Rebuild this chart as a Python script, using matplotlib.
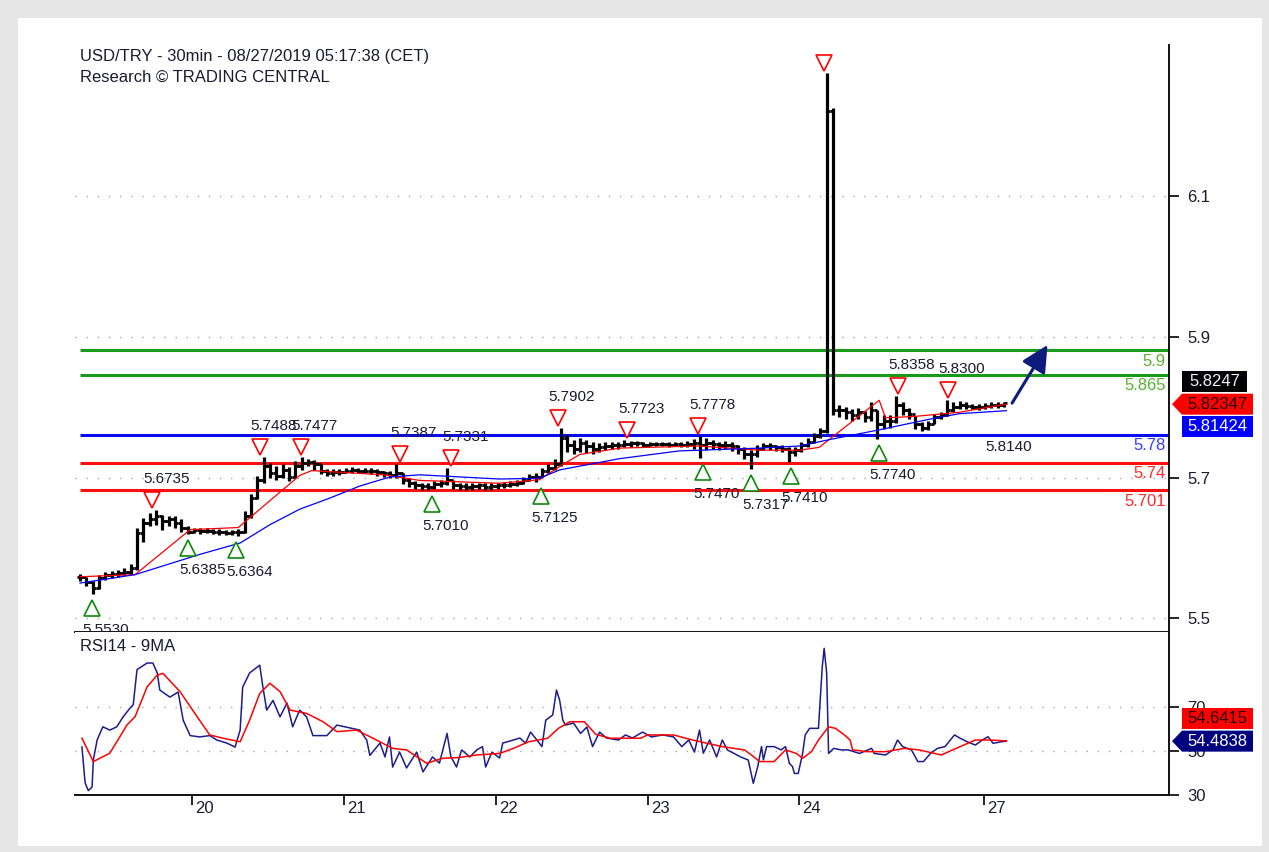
import numpy as np
import matplotlib
matplotlib.use("Agg")
import matplotlib.pyplot as plt
from matplotlib.patches import Polygon, Rectangle
from matplotlib.transforms import ScaledTranslation, IdentityTransform

plt.rcParams["font.family"] = ["Liberation Sans", "DejaVu Sans"]

# x axis is in hours since the first bar (one bar per hour here)
day_ticks = [17.7, 41.7, 65.7, 89.7, 113.7, 142.9]
day_labels = ["20", "21", "22", "23", "24", "27"]

closes = [
    5.578, 5.570, 5.562, 5.576, 5.580, 5.582, 5.584, 5.585, 5.590, 5.640,
    5.655, 5.660, 5.664, 5.658, 5.660, 5.655, 5.648, 5.642, 5.644, 5.643,
    5.643, 5.642, 5.642, 5.640, 5.641, 5.642, 5.665, 5.690, 5.715, 5.735,
    5.725, 5.722, 5.730, 5.720, 5.735, 5.740, 5.741, 5.738, 5.728, 5.725,
    5.727, 5.727, 5.729, 5.730, 5.729, 5.729, 5.728, 5.727, 5.725, 5.723,
    5.725, 5.715, 5.712, 5.708, 5.707, 5.706, 5.710, 5.712, 5.716, 5.708,
    5.707, 5.706, 5.707, 5.708, 5.706, 5.707, 5.708, 5.708, 5.710, 5.712,
    5.716, 5.720, 5.720, 5.728, 5.732, 5.738, 5.775, 5.765, 5.760, 5.768,
    5.764, 5.760, 5.762, 5.764, 5.766, 5.765, 5.767, 5.768, 5.768, 5.766,
    5.767, 5.767, 5.767, 5.766, 5.767, 5.766, 5.767, 5.768, 5.766, 5.768,
    5.767, 5.765, 5.766, 5.764, 5.760, 5.752, 5.752, 5.760, 5.764, 5.764,
    5.762, 5.760, 5.756, 5.758, 5.765, 5.770, 5.778, 5.785, 6.240, 5.815,
    5.815, 5.812, 5.808, 5.812, 5.805, 5.815, 5.795, 5.800, 5.800, 5.822,
    5.815, 5.810, 5.795, 5.790, 5.795, 5.805, 5.808, 5.815, 5.820, 5.822,
    5.821, 5.820, 5.819, 5.821, 5.822, 5.822, 5.8247,
]
highs = [
    5.582, 5.578, 5.572, 5.580, 5.585, 5.586, 5.588, 5.590, 5.596, 5.648,
    5.662, 5.668, 5.6735, 5.666, 5.665, 5.664, 5.660, 5.650, 5.648, 5.647,
    5.647, 5.646, 5.646, 5.645, 5.645, 5.646, 5.672, 5.696, 5.722, 5.7488,
    5.740, 5.735, 5.738, 5.734, 5.742, 5.7477, 5.746, 5.744, 5.738, 5.731,
    5.731, 5.731, 5.733, 5.734, 5.733, 5.732, 5.732, 5.731, 5.729, 5.728,
    5.7387, 5.726, 5.718, 5.714, 5.712, 5.712, 5.714, 5.716, 5.7331, 5.716,
    5.712, 5.711, 5.712, 5.712, 5.711, 5.712, 5.712, 5.713, 5.714, 5.716,
    5.720, 5.724, 5.725, 5.733, 5.738, 5.745, 5.7902, 5.780, 5.772, 5.775,
    5.772, 5.770, 5.768, 5.769, 5.770, 5.770, 5.7723, 5.771, 5.771, 5.770,
    5.770, 5.770, 5.770, 5.769, 5.770, 5.769, 5.771, 5.774, 5.7778, 5.775,
    5.773, 5.770, 5.771, 5.769, 5.766, 5.762, 5.758, 5.765, 5.768, 5.768,
    5.766, 5.765, 5.762, 5.763, 5.770, 5.775, 5.782, 5.790, 6.294, 6.245,
    5.822, 5.820, 5.816, 5.818, 5.814, 5.827, 5.815, 5.808, 5.808, 5.8358,
    5.826, 5.818, 5.806, 5.798, 5.800, 5.810, 5.813, 5.8300, 5.826, 5.828,
    5.826, 5.824, 5.824, 5.825, 5.826, 5.826, 5.827,
]
lows = [
    5.572, 5.565, 5.553, 5.560, 5.574, 5.576, 5.578, 5.580, 5.582, 5.588,
    5.628, 5.650, 5.652, 5.645, 5.650, 5.648, 5.642, 5.6385, 5.640, 5.639,
    5.640, 5.639, 5.638, 5.637, 5.637, 5.6364, 5.640, 5.662, 5.688, 5.712,
    5.718, 5.715, 5.718, 5.714, 5.718, 5.730, 5.735, 5.730, 5.724, 5.721,
    5.722, 5.723, 5.725, 5.726, 5.725, 5.725, 5.724, 5.722, 5.720, 5.718,
    5.718, 5.710, 5.706, 5.703, 5.702, 5.7010, 5.703, 5.706, 5.708, 5.703,
    5.702, 5.701, 5.702, 5.703, 5.701, 5.702, 5.703, 5.704, 5.705, 5.707,
    5.710, 5.714, 5.7125, 5.720, 5.726, 5.730, 5.736, 5.755, 5.752, 5.755,
    5.754, 5.752, 5.755, 5.758, 5.760, 5.760, 5.762, 5.763, 5.764, 5.763,
    5.764, 5.764, 5.764, 5.763, 5.764, 5.763, 5.762, 5.760, 5.747, 5.758,
    5.760, 5.759, 5.760, 5.757, 5.752, 5.745, 5.7317, 5.748, 5.758, 5.759,
    5.757, 5.755, 5.7410, 5.750, 5.756, 5.762, 5.768, 5.776, 5.782, 5.808,
    5.805, 5.803, 5.800, 5.802, 5.798, 5.800, 5.774, 5.788, 5.790, 5.796,
    5.808, 5.802, 5.788, 5.786, 5.787, 5.795, 5.802, 5.806, 5.812, 5.816,
    5.817, 5.816, 5.815, 5.817, 5.818, 5.818, 5.820,
]

red_ma_hours = [0, 8.7, 17.4, 25.0, 34.7, 36.6, 48.0, 53.7, 66.3, 72.6, 75.8,
                79.0, 85.3, 97.9, 107.4, 113.7, 116.8, 126.3, 127.3, 131.8, 139.0, 146.4]
red_ma_values = [5.578, 5.581, 5.645, 5.648, 5.722, 5.729, 5.723, 5.715, 5.711, 5.716, 5.735,
                 5.752, 5.761, 5.764, 5.758, 5.758, 5.762, 5.829, 5.804, 5.806, 5.812, 5.8235]
blue_ma_hours = [0, 8.7, 19.0, 25.3, 30.0, 34.7, 39.5, 44.2, 49.0, 53.7, 66.3,
                 72.6, 75.8, 85.3, 94.7, 107.4, 113.7, 118.4, 126.3, 134.2, 139.0, 146.4]
blue_ma_values = [5.569, 5.581, 5.610, 5.626, 5.652, 5.674, 5.690, 5.707, 5.720, 5.723, 5.717,
                  5.718, 5.730, 5.746, 5.757, 5.761, 5.764, 5.773, 5.787, 5.802, 5.810, 5.8142]

green_levels = [5.9, 5.865]
blue_levels = [5.78]
red_levels = [5.74, 5.701]

high_hours = [11.4, 28.4, 34.9, 50.5, 58.7, 75.5, 86.5, 97.7, 117.5, 129.2, 137.1]
high_values = [5.6735, 5.7488, 5.7477, 5.7387, 5.7331, 5.7902, 5.7723, 5.7778, 6.294, 5.8358, 5.8300]
high_labels = ["5.6735", "5.7488", "5.7477", "5.7387", "5.7331", "5.7902", "5.7723",
               "5.7778", "", "5.8358", "5.8300"]
low_hours = [1.9, 17.1, 24.6, 55.6, 72.8, 98.4, 106.1, 112.3, 126.2]
low_values = [5.5530, 5.6385, 5.6364, 5.7010, 5.7125, 5.7470, 5.7317, 5.7410, 5.7740]
low_labels = ["5.5530", "5.6385", "5.6364", "5.7010", "5.7125", "5.7470", "5.7317",
              "5.7410", "5.7740"]

forecast_hours = [147.3, 152.9]
forecast_values = [5.825, 5.9077]

price_ticks = [5.5, 5.7, 5.9, 6.1]
# the source grid sits a little above the round values
grid_shift = 0.019

rsi_hours = [
    0.3, 0.8, 1.3, 1.9, 2.1, 2.7, 3.6, 4.7, 5.8, 6.8,
    7.9, 8.4, 9.0, 10.6, 11.5, 12.2, 12.6, 14.2, 15.5, 16.3,
    17.4, 18.9, 20.5, 21.6, 23.2, 24.5, 25.3, 25.7, 26.8, 28.4,
    28.9, 29.5, 30.5, 31.6, 32.7, 33.6, 34.7, 35.8, 36.8, 39.0,
    40.6, 42.6, 44.2, 45.3, 45.8, 47.4, 48.2, 48.9, 49.4, 50.5,
    51.6, 53.2, 54.2, 55.7, 56.8, 58.0, 58.6, 59.5, 60.3, 61.6,
    62.7, 63.6, 64.1, 65.1, 66.3, 66.8, 68.5, 69.5, 70.4, 71.2,
    72.2, 73.0, 73.6, 74.7, 75.3, 75.8, 76.3, 76.7, 78.0, 79.1,
    80.1, 81.0, 82.1, 83.2, 85.1, 86.2, 87.3, 88.9, 90.3, 92.1,
    93.8, 95.1, 96.2, 97.1, 97.9, 98.5, 99.5, 100.6, 101.5, 102.3,
    103.3, 104.4, 105.6, 106.4, 107.1, 107.7, 108.0, 108.5, 109.7, 110.8,
    111.5, 112.1, 112.6, 112.9, 113.5, 114.2, 114.6, 115.3, 116.7, 117.3,
    117.6, 118.0, 118.3, 119.1, 120.3, 121.4, 123.2, 125.1, 125.5, 127.3,
    128.5, 129.2, 130.0, 131.4, 132.4, 133.3, 134.4, 135.5, 136.7, 138.2,
    139.1, 140.2, 141.5, 142.6, 143.5, 144.3, 145.6, 146.4,
]
rsi_values = [
    51.8, 35.5, 32.0, 33.6, 46.0, 55.0, 61.0, 59.5, 61.0, 65.5,
    69.5, 71.0, 87.0, 90.0, 90.0, 85.5, 77.7, 74.5, 76.8, 64.0,
    57.0, 56.4, 57.0, 55.0, 53.6, 51.8, 59.5, 79.0, 85.5, 89.0,
    79.0, 68.6, 73.0, 65.5, 71.8, 61.0, 68.6, 65.5, 57.0, 57.0,
    61.8, 60.5, 59.5, 55.0, 48.0, 53.6, 47.3, 56.4, 42.7, 49.5,
    42.3, 49.5, 40.5, 47.3, 44.5, 58.0, 47.5, 42.7, 50.5, 47.3,
    50.5, 52.0, 42.7, 49.5, 46.8, 53.6, 55.0, 55.9, 53.6, 58.6,
    55.0, 52.0, 64.0, 66.4, 77.7, 73.0, 64.0, 61.8, 62.7, 58.0,
    60.9, 52.0, 58.6, 55.9, 55.0, 57.3, 55.9, 58.6, 56.4, 57.3,
    56.4, 52.0, 55.0, 49.5, 59.5, 49.0, 55.0, 47.3, 55.0, 50.5,
    49.0, 47.3, 45.9, 35.3, 42.9, 52.0, 45.9, 52.0, 52.0, 50.5,
    52.0, 44.4, 42.9, 39.8, 39.8, 48.9, 57.3, 60.3, 60.3, 88.3,
    96.7, 85.3, 48.9, 51.2, 50.5, 50.5, 48.9, 51.2, 48.9, 48.2,
    50.5, 55.0, 52.0, 50.5, 45.2, 45.2, 48.9, 51.2, 52.0, 57.3,
    55.8, 54.2, 52.7, 55.0, 56.5, 53.5, 54.2, 54.5,
]
rsi_ma_hours = [
    0.3, 2.1, 4.7, 6.3, 7.4, 8.7, 10.6, 12.2, 13.1, 15.8,
    18.5, 20.5, 22.6, 25.3, 26.8, 28.4, 30.0, 31.6, 33.2, 35.8,
    38.4, 40.6, 43.7, 46.3, 49.4, 51.6, 54.8, 57.3, 59.8, 62.7,
    66.3, 68.5, 70.9, 73.9, 75.6, 77.4, 79.7, 81.5, 83.8, 88.6,
    89.7, 93.8, 96.8, 101.5, 105.0, 106.1, 107.4, 109.7, 111.5, 113.2,
    114.2, 115.6, 116.7, 118.3, 119.4, 120.8, 121.7, 122.1, 124.4, 127.3,
    130.3, 132.6, 136.1, 139.1, 141.5, 143.8, 146.4,
]
rsi_ma_values = [
    55.8, 45.2, 49.0, 56.5, 61.8, 65.6, 79.2, 84.5, 85.3, 77.0,
    65.6, 57.3, 55.8, 54.2, 64.0, 76.2, 80.8, 77.0, 68.6, 67.1,
    63.3, 58.8, 59.5, 55.8, 51.2, 50.5, 44.4, 46.7, 47.0, 48.2,
    48.9, 51.2, 54.2, 55.8, 60.3, 63.3, 63.3, 57.6, 55.8, 55.8,
    57.3, 57.3, 55.0, 52.0, 50.5, 48.2, 45.2, 45.2, 50.5, 48.9,
    46.7, 49.7, 55.0, 61.0, 60.3, 57.3, 55.0, 50.5, 49.7, 49.7,
    51.2, 50.5, 48.2, 52.0, 55.0, 55.0, 54.6,
]
rsi_ticks = [30, 50, 70]

last_price = 5.8247
last_red_ma = 5.82347
last_blue_ma = 5.81424
last_rsi_ma = 54.6415
last_rsi = 54.4838

W, H, DPI = 1269, 852, 100
fig = plt.figure(figsize=(W / DPI, H / DPI), dpi=DPI, facecolor="#e6e6e6")
fig.add_artist(Rectangle((18 / W, 6 / H), (1262 - 18) / W, (834 - 6) / H,
                         transform=fig.transFigure, facecolor="white",
                         edgecolor="none", zorder=-10))

ax_p = fig.add_axes([75 / W, (H - 632) / H, (1169 - 75) / W, (632 - 45) / H])
ax_r = fig.add_axes([75 / W, (H - 795) / H, (1169 - 75) / W, (795 - 632) / H])

x_left, x_right = -0.8, 172.1
text_col = "#1a1a33"


def shifted(ax, dx, dy):
    return ax.transData + ScaledTranslation(dx / DPI, dy / DPI, fig.dpi_scale_trans)


for ax in (ax_p, ax_r):
    ax.set_xlim(x_left, x_right)
    ax.set_facecolor("white")
    for side in ("top", "left"):
        ax.spines[side].set_visible(False)
    for side in ("right", "bottom"):
        ax.spines[side].set_linewidth(1.4)
        ax.spines[side].set_color("#111111")
    ax.yaxis.tick_right()
    ax.tick_params(axis="y", direction="out", length=7, width=1.2, pad=6,
                   labelsize=12, labelcolor=text_col)

# ---- price panel ----
ax_p.set_ylim(5.4994, 6.3344)
ax_p.set_yticks([v + grid_shift for v in price_ticks], [str(v) for v in price_ticks])
ax_p.set_xticks([])
ax_p.grid(axis="y", linestyle=(0, (1, 7)), color="#a8a8a8", linewidth=1)

for lvl in green_levels:
    ax_p.hlines(lvl, 0, x_right, color="#1a9a1a", lw=2.2, zorder=2)
for lvl in blue_levels:
    ax_p.hlines(lvl, 0, x_right, color="#0a0af0", lw=2.2, zorder=2)
for lvl in red_levels:
    ax_p.hlines(lvl, 0, x_right, color="#ff1010", lw=2.2, zorder=2)

level_text = [(green_levels, "#58b030"), (blue_levels, "#3b3bff"), (red_levels, "#ff2a2a")]
for levels, col in level_text:
    for lvl in levels:
        ax_p.text(x_right, lvl, f"{lvl:g}", transform=shifted(ax_p, -3, -11),
                  ha="right", va="center", fontsize=12, color=col)

# OHLC-style bars, drawn heavy so they pack together like the source
hours = np.arange(len(closes))
opens = [closes[0]] + closes[:-1]
ax_p.vlines(hours, lows, highs, color="black", lw=2.3, zorder=4)
ax_p.hlines(closes, hours, hours + 0.55, color="black", lw=2.0, zorder=4)
ax_p.hlines(opens, hours - 0.55, hours, color="black", lw=2.0, zorder=4)

ax_p.plot(red_ma_hours, red_ma_values, color="#ff0000", lw=0.9, zorder=5)
ax_p.plot(blue_ma_hours, blue_ma_values, color="#0000ff", lw=0.9, zorder=5)

ax_p.plot(high_hours, high_values, linestyle="none", marker="v", ms=11,
          mfc="white", mec="#ff0000", mew=1.2, transform=shifted(ax_p, 0, 10), zorder=6)
ax_p.plot(low_hours, low_values, linestyle="none", marker="^", ms=11,
          mfc="white", mec="#0a8a0a", mew=1.2, transform=shifted(ax_p, 0, -14), zorder=6)
for hx, hv, lab in zip(high_hours, high_values, high_labels):
    ax_p.text(hx, hv, lab, transform=shifted(ax_p, 14, 31), ha="center", va="center",
              fontsize=11, color=text_col, clip_on=True, zorder=6)
for lx, lv, lab in zip(low_hours, low_values, low_labels):
    ax_p.text(lx, lv, lab, transform=shifted(ax_p, 14, -36), ha="center", va="center",
              fontsize=11, color=text_col, clip_on=True, zorder=6)
ax_p.text(144.5, 5.8140, "5.8140", transform=shifted(ax_p, 14, -36), ha="center",
          va="center", fontsize=11, color=text_col, zorder=6)

ax_p.annotate("", xy=(forecast_hours[1], forecast_values[1]),
              xytext=(forecast_hours[0], forecast_values[0]),
              arrowprops=dict(arrowstyle="-|>,head_length=0.9,head_width=0.45",
                              color="#0d1b7d", lw=2.2, mutation_scale=18,
                              shrinkA=0, shrinkB=0), zorder=7)

# ---- RSI panel ----
ax_r.set_ylim(30, 104.1)
ax_r.set_yticks(rsi_ticks, [str(v) for v in rsi_ticks])
ax_r.grid(axis="y", linestyle=(0, (1, 7)), color="#a8a8a8", linewidth=1)
ax_r.plot(rsi_hours, rsi_values, color="#1c1c8c", lw=1.1, zorder=3)
ax_r.plot(rsi_ma_hours, rsi_ma_values, color="#ff0000", lw=1.1, zorder=4)
ax_r.set_xticks(day_ticks, day_labels)
ax_r.tick_params(axis="x", direction="out", length=7, width=1.2, pad=-3,
                 labelsize=12, labelcolor=text_col)
for lbl in ax_r.get_xticklabels():
    lbl.set_horizontalalignment("left")
    lbl.set_transform(lbl.get_transform() + ScaledTranslation(3 / DPI, 0, fig.dpi_scale_trans))
ax_r.text(0.005, 0.91, "RSI14 - 9MA", transform=ax_r.transAxes, fontsize=12,
          color=text_col, va="center")

# ---- titles ----
fig.text(80 / W, 1 - 57 / H, "USD/TRY - 30min - 08/27/2019 05:17:38 (CET)",
         fontsize=12, color=text_col, va="center")
fig.text(80 / W, 1 - 77 / H, "Research \u00a9 TRADING CENTRAL",
         fontsize=12, color=text_col, va="center")


# ---- value tags on the right ----
def tag(ax, value, dy, text, face, color, pointer=False, width=71):
    x0 = ax.transAxes.transform((1, 0))[0]
    yc = ax.transData.transform((0, value))[1] + dy
    left = x0 + 13
    h = 10.5
    verts = [(left, yc + h), (left + width, yc + h), (left + width, yc - h), (left, yc - h)]
    if pointer:
        verts = [(x0 + 3, yc)] + verts
    fig.add_artist(Polygon(verts, closed=True, facecolor=face, edgecolor="none",
                           transform=IdentityTransform(), zorder=5))
    fig.text(left + width / 2, yc, text, transform=IdentityTransform(), ha="center",
             va="center", fontsize=12, color=color, zorder=6)


tag(ax_p, last_red_ma, 0, f"{last_red_ma:.5f}", "#ff0000", "#220000", pointer=True)
tag(ax_p, last_red_ma, 23, f"{last_price:.4f}", "#000000", "#f0f0ff", width=65)
tag(ax_p, last_red_ma, -22, f"{last_blue_ma:.5f}", "#0000ff", "#ffffff")
tag(ax_r, last_rsi, 0, f"{last_rsi:.4f}", "#000080", "#ffffff", pointer=True)
tag(ax_r, last_rsi, 23, f"{last_rsi_ma:.4f}", "#ff0000", "#220000")

fig.savefig("out.png", dpi=DPI, facecolor=fig.get_facecolor())
